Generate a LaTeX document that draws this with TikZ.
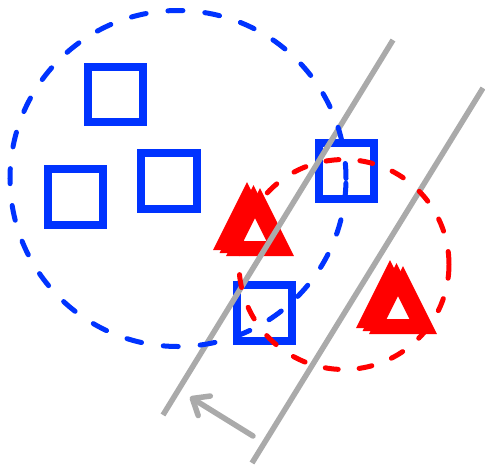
\documentclass[tikz,border=0pt]{standalone}
\usetikzlibrary{arrows.meta}
\definecolor{sqblue}{RGB}{0,51,255}
\definecolor{trired}{RGB}{255,0,0}
\definecolor{sepgray}{RGB}{170,170,170}
\begin{document}
\begin{tikzpicture}[x=1pt,y=-1pt,
  sqbox/.style={draw=sqblue,line width=8pt,minimum size=55.5pt,inner sep=0pt,outer sep=0pt},
  tri/.style={draw=trired,line width=9pt,line join=miter},
  sepline/.style={draw=sepgray,line width=5.5pt},
  movearrow/.style={draw=sepgray,line width=5.5pt,line cap=round,-{Straight Barb[length=14pt,width=23pt,round]}},
  bluering/.style={draw=sqblue,line width=5pt,line cap=round,dash pattern=on 15pt off 22pt},
  redring/.style={draw=trired,line width=5pt,line cap=round,dash pattern=on 13pt off 21pt}]
\useasboundingbox (0,0) rectangle (485,467);
% squares
\node[sqbox] (s1) at (115.3,94.3) {};
\node[sqbox] (s2) at (75.3,197) {};
\node[sqbox] (s3) at (169,181) {};
\node[sqbox] (s4) at (346.5,171) {};
\node[sqbox] (s5) at (264.4,313.2) {};
% triangles (three offset copies each)
\foreach \cx/\cy in {247/229, 390/307}{
  \foreach \dx/\dy in {0/0, 6.5/3, 13/6}{
    \draw[tri] (\cx+\dx,\cy+\dy-36.9) -- (\cx+\dx-26.7,\cy+\dy+16.5) -- (\cx+\dx+26.7,\cy+\dy+16.5) -- cycle;
  }
}
% separating lines
\coordinate (l1a) at (163,415);
\coordinate (l1b) at (393,40);
\coordinate (l2a) at (252,463);
\coordinate (l2b) at (483,88);
\draw[sepline] (l1a) -- (l1b);
\draw[sepline] (l2a) -- (l2b);
% arrow
\coordinate (atail) at (253,436);
\coordinate (ahead) at (190,397);
\draw[movearrow] (atail) -- (ahead);
% dashed circles
\coordinate (bc) at (178,178.5);
\coordinate (rc) at (344,264.5);
\draw[bluering] (bc) circle[radius=168pt];
\draw[redring] (rc) circle[radius=105pt];
\end{tikzpicture}
\end{document}
